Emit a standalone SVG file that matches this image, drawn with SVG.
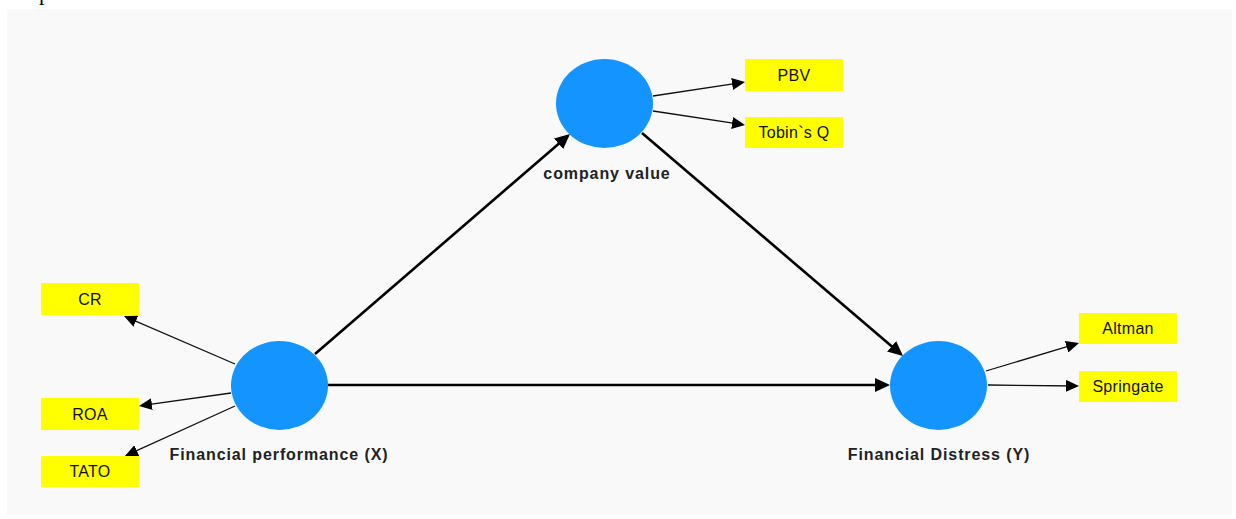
<svg xmlns="http://www.w3.org/2000/svg" width="1236" height="519" viewBox="0 0 1236 519">
  <style>
    .panel { fill: #f9f9f9; }
    .latent { fill: #1494ff; }
    .ind { fill: #ffff00; }
    .ind-text { font-family: "Liberation Sans", Arial, sans-serif; font-size: 16px; letter-spacing: 0.3px; fill: #111; text-anchor: middle; }
    .lv-text { font-family: "Liberation Sans", Arial, sans-serif; font-size: 16px; font-weight: bold; letter-spacing: 0.9px; fill: #222; text-anchor: middle; }
    .path-thick { stroke: #000; stroke-width: 2.6; fill: none; marker-end: url(#headL); }
    .path-thin { stroke: #111; stroke-width: 1.3; fill: none; marker-end: url(#headS); }
  </style>
  <defs>
    <marker id="headL" markerUnits="userSpaceOnUse" markerWidth="16" markerHeight="14" refX="12" refY="7" orient="auto">
      <path d="M0,0 L15,7 L0,14 z" fill="#000"/>
    </marker>
    <marker id="headS" markerUnits="userSpaceOnUse" markerWidth="14" markerHeight="12" refX="11" refY="6" orient="auto">
      <path d="M0,0 L13,6 L0,12 z" fill="#000"/>
    </marker>
  </defs>

  <rect width="1236" height="519" fill="#ffffff"/>
  <!-- tail of the page text running above the figure -->
  <text x="39" y="0" font-family="Liberation Serif, serif" font-size="22" fill="#000">p</text>
  <rect class="panel" x="7" y="9" width="1225" height="506"/>

  <!-- structural and measurement paths -->
  <g id="connectors">
    <line class="path-thick" x1="315" y1="354" x2="567.7" y2="136"/>
    <line class="path-thick" x1="642" y1="133" x2="900.7" y2="354.1"/>
    <line class="path-thick" x1="328" y1="385" x2="887" y2="385"/>
    <line class="path-thin" x1="653" y1="96" x2="743" y2="82.3"/>
    <line class="path-thin" x1="653" y1="111" x2="743" y2="124.7"/>
    <line class="path-thin" x1="235" y1="364" x2="125.8" y2="316.8"/>
    <line class="path-thin" x1="231" y1="393" x2="141" y2="405.7"/>
    <line class="path-thin" x1="235" y1="406" x2="126.8" y2="455.2"/>
    <line class="path-thin" x1="986" y1="371" x2="1077.1" y2="343.6"/>
    <line class="path-thin" x1="988" y1="385" x2="1077" y2="386"/>
  </g>

  <!-- latent variables -->
  <g id="company-value">
    <ellipse class="latent" cx="604.5" cy="103.5" rx="48.5" ry="44.5"/>
    <text class="lv-text" x="607" y="179">company value</text>
  </g>
  <g id="financial-performance">
    <ellipse class="latent" cx="279.5" cy="385.5" rx="48.5" ry="44.5"/>
    <text class="lv-text" x="279" y="460">Financial performance (X)</text>
  </g>
  <g id="financial-distress">
    <ellipse class="latent" cx="938.5" cy="385.5" rx="48.5" ry="44.5"/>
    <text class="lv-text" x="939" y="460">Financial Distress (Y)</text>
  </g>

  <!-- indicators -->
  <g id="pbv">
    <rect class="ind" x="745" y="59" width="98" height="32"/>
    <text class="ind-text" x="794" y="80.5">PBV</text>
  </g>
  <g id="tobins-q">
    <rect class="ind" x="745" y="117" width="98" height="31"/>
    <text class="ind-text" x="794" y="138">Tobin`s Q</text>
  </g>
  <g id="cr">
    <rect class="ind" x="41" y="283" width="98" height="32"/>
    <text class="ind-text" x="90" y="304.5">CR</text>
  </g>
  <g id="roa">
    <rect class="ind" x="41" y="398" width="98" height="32"/>
    <text class="ind-text" x="90" y="419.5">ROA</text>
  </g>
  <g id="tato">
    <rect class="ind" x="41" y="456" width="98" height="31"/>
    <text class="ind-text" x="90" y="477">TATO</text>
  </g>
  <g id="altman">
    <rect class="ind" x="1079" y="313" width="98" height="31"/>
    <text class="ind-text" x="1128" y="334">Altman</text>
  </g>
  <g id="springate">
    <rect class="ind" x="1079" y="371" width="98" height="31"/>
    <text class="ind-text" x="1128" y="392">Springate</text>
  </g>
</svg>
